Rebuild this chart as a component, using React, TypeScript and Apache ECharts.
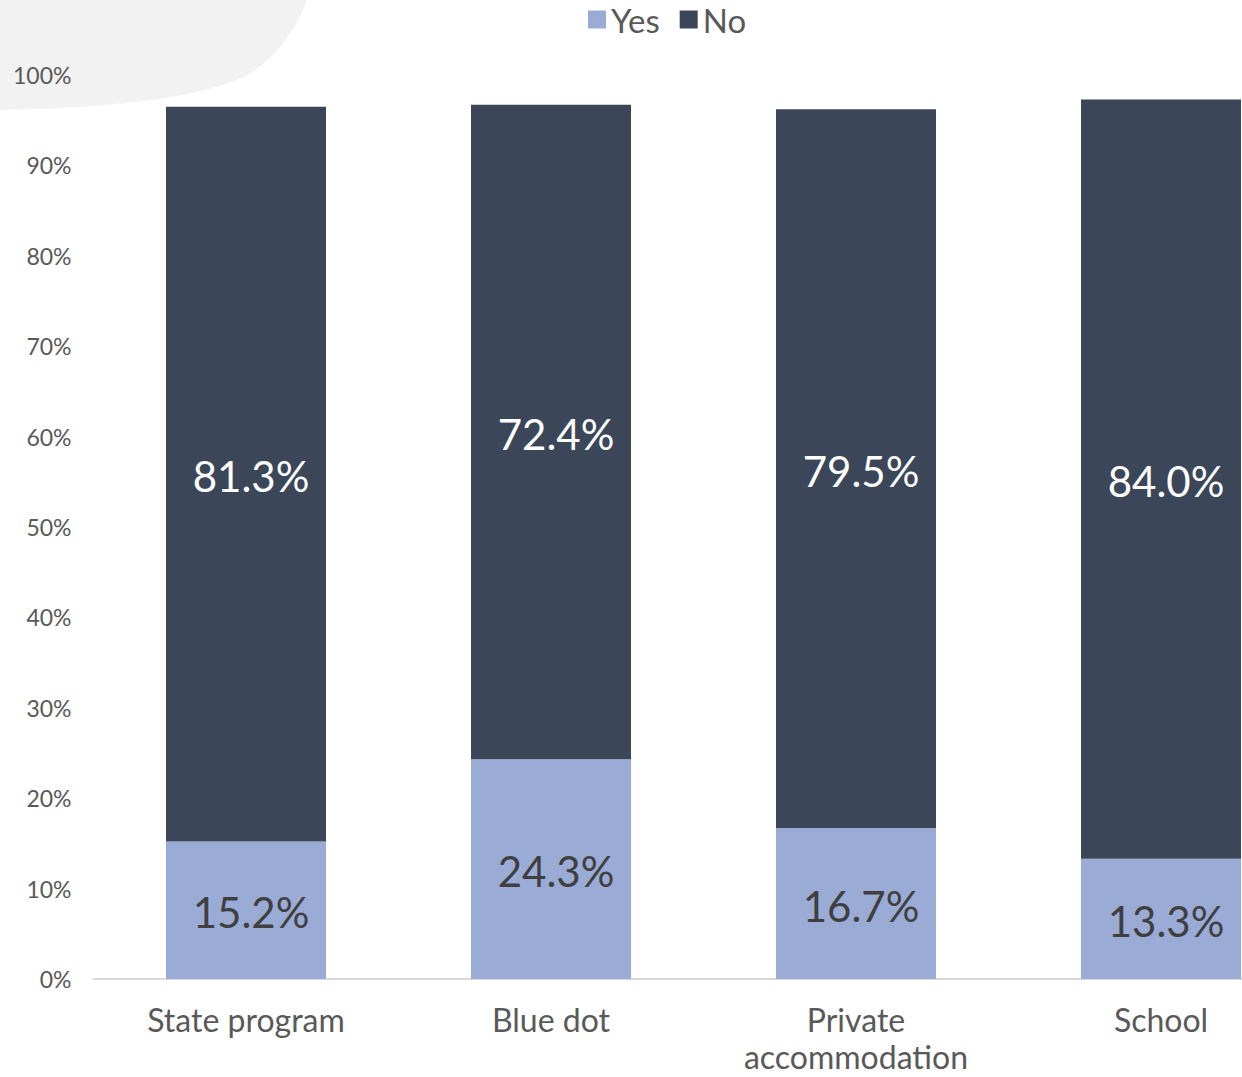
import React, { useEffect, useRef } from "react";
import * as echarts from "echarts";

const categories = ["State program", "Blue dot", "Private\naccommodation", "School"];
const yesValues = [15.2, 24.3, 16.7, 13.3];
const noValues = [81.3, 72.4, 79.5, 84.0];
const seriesNames = ["Yes", "No"];

echarts.graphic.registerShape(
  "blob",
  echarts.graphic.extendPath(
    "M0 0 H307 C 292 38, 268 68, 232 82 C 182 100, 100 108, 0 110 Z",
    {}
  )
);

export default function App() {
  const ref = useRef<HTMLDivElement>(null);
  useEffect(() => {
    if (!ref.current) return;
    const chart = echarts.init(ref.current, undefined, { renderer: "svg" });
    const font = "Lato, 'Noto Sans', sans-serif";
    chart.setOption({
      animation: false,
      textStyle: { fontFamily: font },
      graphic: [
        {
          type: "blob",
          x: 0,
          y: 0,
          z: -10,
          silent: true,
          style: { fill: "#f2f2f2" },
        },
      ],
      legend: {
        top: -2,
        left: 583,
        itemWidth: 18,
        itemHeight: 18,
        itemGap: 20,
        icon: "rect",
        textStyle: { fontSize: 33, color: "#595959", fontFamily: font },
        data: seriesNames,
      },
      grid: {
        left: 93.5,
        top: 75,
        width: 1220,
        height: 904,
        containLabel: false,
        outerBoundsMode: "none",
      },
      xAxis: {
        type: "category",
        data: categories,
        axisLine: { lineStyle: { color: "#d9d9d9", width: 2 } },
        axisTick: { show: false },
        axisLabel: {
          fontSize: 32,
          color: "#595959",
          margin: 22,
          lineHeight: 37,
          fontFamily: font,
        },
      },
      yAxis: {
        type: "value",
        min: 0,
        max: 100,
        interval: 10,
        splitLine: { show: false },
        axisLabel: {
          formatter: "{value}%",
          fontSize: 23,
          color: "#595959",
          margin: 22,
          fontFamily: font,
        },
      },
      series: [
        {
          name: "Yes",
          type: "bar",
          stack: "total",
          barWidth: 160,
          data: yesValues,
          itemStyle: { color: "#9aabd6" },
          label: {
            show: true,
            position: "inside",
            offset: [5, 2],
            formatter: (p: any) => p.value.toFixed(1) + "%",
            fontSize: 42,
            color: "#3f3f3f",
            fontFamily: font,
          },
        },
        {
          name: "No",
          type: "bar",
          stack: "total",
          barWidth: 160,
          data: noValues,
          itemStyle: { color: "#3b4759" },
          label: {
            show: true,
            position: "inside",
            offset: [5, 2],
            formatter: (p: any) => p.value.toFixed(1) + "%",
            fontSize: 42,
            color: "#ffffff",
            fontFamily: font,
          },
        },
      ],
    });
    return () => chart.dispose();
  }, []);
  return (
    <div
      ref={ref}
      style={{ position: "fixed", left: 0, top: 0, width: 1242, height: 1077, background: "#fff" }}
    />
  );
}
